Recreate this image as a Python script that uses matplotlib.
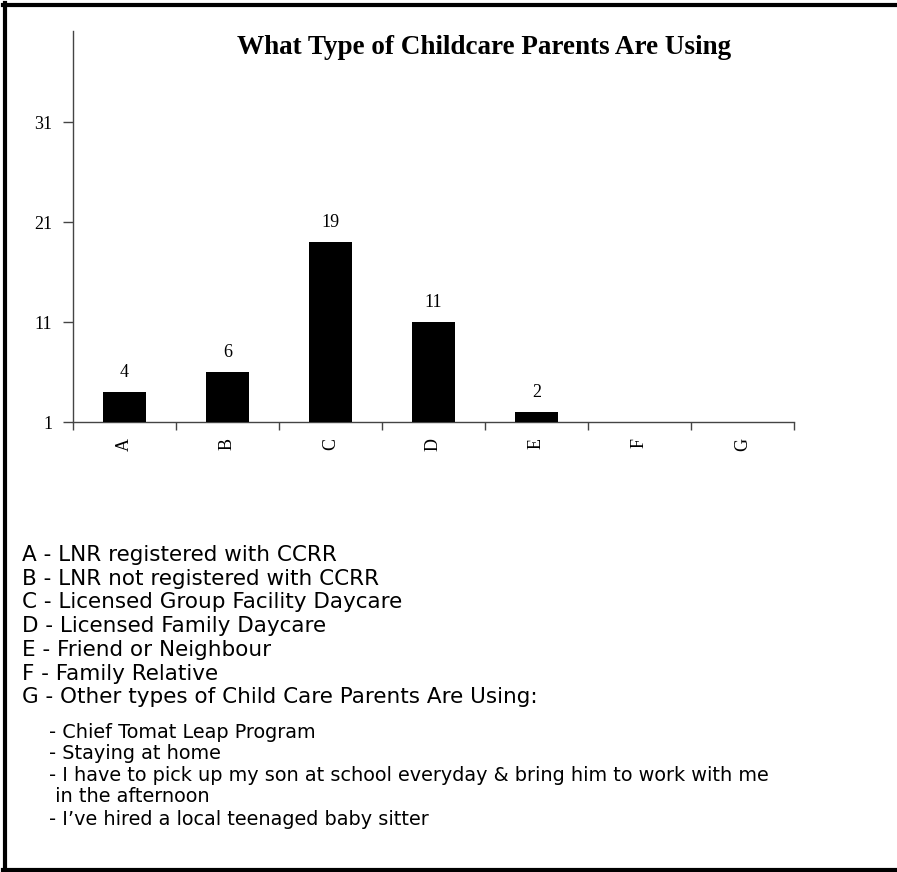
import numpy as np
import matplotlib
matplotlib.use("Agg")
import matplotlib.pyplot as plt
from matplotlib.lines import Line2D

# ---------------- data ----------------
categories = ["A", "B", "C", "D", "E", "F", "G"]
counts = [4, 6, 19, 11, 2, 0, 0]
y_ticks = [1, 11, 21, 31]

key_lines = [
    "A - LNR registered with CCRR",
    "B - LNR not registered with CCRR",
    "C - Licensed Group Facility Daycare",
    "D - Licensed Family Daycare",
    "E - Friend or Neighbour",
    "F - Family Relative",
    "G - Other types of Child Care Parents Are Using:",
]
other_lines = [
    "- Chief Tomat Leap Program",
    "- Staying at home",
    "- I have to pick up my son at school everyday & bring him to work with me",
    " in the afternoon",
    "- I\u2019ve hired a local teenaged baby sitter",
]

W, H = 897, 872
fig = plt.figure(figsize=(W / 100, H / 100), dpi=100)
fig.patch.set_facecolor("white")

# axes placed in pixel terms
ax_left, ax_right, ax_top, ax_bottom = 73, 794, 31, 422.5
ax = fig.add_axes([ax_left / W, 1 - ax_bottom / H,
                   (ax_right - ax_left) / W, (ax_bottom - ax_top) / H])

x = np.arange(len(categories))
ax.bar(x, counts, width=0.42, color="black", zorder=3)

for xi, v in zip(x, counts):
    if v > 0:
        ax.text(xi, v + 1.1, str(v), ha="center", va="bottom",
                family="Liberation Serif", fontsize=13)

ax.set_xlim(-0.5, len(categories) - 0.5)
ax.set_ylim(1, 40.1)
ax.set_yticks(y_ticks)
ax.set_yticklabels([str(t) for t in y_ticks], family="Liberation Serif", fontsize=13)

# ticks between categories, labels at centres
ax.set_xticks(np.arange(len(categories) + 1) - 0.5)
ax.set_xticklabels([])
ax.set_xticks(x, minor=True)
ax.set_xticklabels(categories, minor=True, rotation=90,
                   family="Liberation Serif", fontsize=13)
ax.tick_params(axis="x", which="major", direction="out", length=6, width=1, color="#444444")
ax.tick_params(axis="x", which="minor", length=0, pad=11)
ax.tick_params(axis="y", direction="out", length=7, width=1, color="#444444", pad=8)

for s in ["top", "right"]:
    ax.spines[s].set_visible(False)
for s in ["left", "bottom"]:
    ax.spines[s].set_color("#444444")
    ax.spines[s].set_linewidth(1)

fig.text(484 / W, 1 - 54 / H, "What Type of Childcare Parents Are Using",
         ha="center", va="baseline", family="Liberation Serif",
         fontweight="bold", fontsize=19.5)

# key below the chart
for i, line in enumerate(key_lines):
    fig.text(22 / W, 1 - (561 + i * 23.7) / H, line, ha="left", va="baseline",
             family="DejaVu Sans", fontsize=15.5)

other_y = [738, 759, 781, 802, 825]
for line, yy in zip(other_lines, other_y):
    fig.text(49 / W, 1 - yy / H, line, ha="left", va="baseline",
             family="DejaVu Sans", fontsize=13.9)

# outer frame (left, top, bottom)
lw = 3
fig.add_artist(Line2D([5 / W, 5 / W], [1 - 3 / H, 1 - 872 / H], color="black", lw=lw,
                      transform=fig.transFigure))
fig.add_artist(Line2D([3 / W, 1.01], [1 - 5 / H, 1 - 5 / H], color="black", lw=lw,
                      transform=fig.transFigure))
fig.add_artist(Line2D([3 / W, 1.01], [1 - 870 / H, 1 - 870 / H], color="black", lw=lw,
                      transform=fig.transFigure))

fig.savefig("out.png", dpi=100)
